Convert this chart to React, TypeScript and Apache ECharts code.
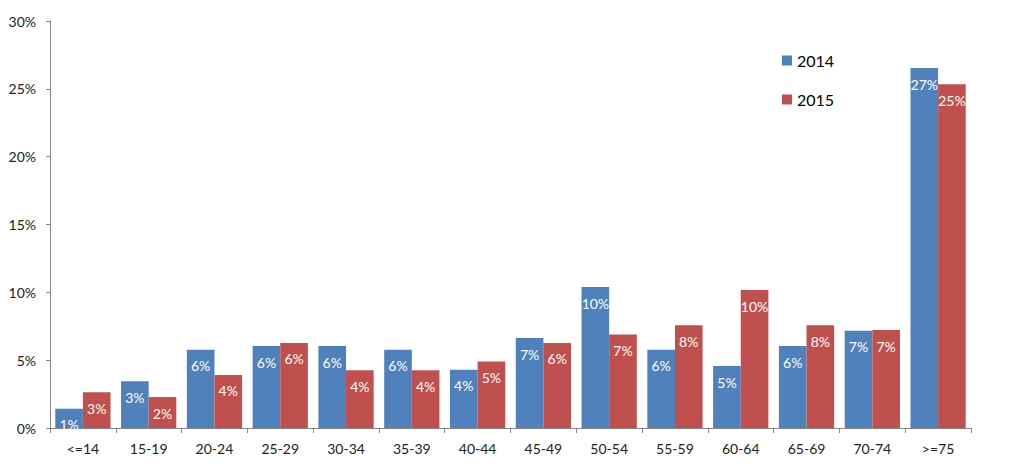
import React, { useEffect, useRef } from "react";
import * as echarts from "echarts";

const categories = ["<=14", "15-19", "20-24", "25-29", "30-34", "35-39", "40-44", "45-49", "50-54", "55-59", "60-64", "65-69", "70-74", ">=75"];
const values2014 = [1.42, 3.44, 5.77, 6.04, 6.04, 5.77, 4.3, 6.63, 10.39, 5.77, 4.57, 6.04, 7.17, 26.53];
const values2015 = [2.63, 2.28, 3.91, 6.27, 4.25, 4.25, 4.91, 6.27, 6.9, 7.57, 10.17, 7.57, 7.22, 25.33];
const seriesNames = ["2014", "2015"];
const colors = ["#4F81BD", "#C0504D"];

const FONT = "Lato, 'Open Sans', sans-serif";

export default function App() {
  const ref = useRef<HTMLDivElement>(null);
  useEffect(() => {
    if (!ref.current) return;
    const chart = echarts.init(ref.current, null, { renderer: "svg" });
    const label = {
      show: true,
      position: "insideTop",
      distance: 9,
      color: "#ffffff",
      fontSize: 14,
      fontFamily: FONT,
      formatter: (p: any) => Math.round(p.value) + "%",
    };
    chart.setOption({
      animation: false,
      backgroundColor: "#ffffff",
      color: colors,
      textStyle: { fontFamily: FONT },
      grid: { left: 50, right: 53, top: 21, bottom: 39, containLabel: false },
      legend: {
        orient: "vertical",
        left: 782,
        top: 52,
        padding: 0,
        itemWidth: 10,
        itemHeight: 10,
        itemGap: 22,
        icon: "rect",
        textStyle: { fontSize: 16, color: "#000", fontFamily: FONT, lineHeight: 17 },
        data: seriesNames,
      },
      xAxis: {
        type: "category",
        data: categories,
        axisLine: { lineStyle: { color: "#868686", width: 1 } },
        axisTick: { show: true, length: 5, lineStyle: { color: "#868686" } },
        axisLabel: { color: "#222", fontSize: 14, margin: 13, fontFamily: FONT, interval: 0 },
      },
      yAxis: {
        type: "value",
        min: 0,
        max: 30,
        interval: 5,
        axisLine: { show: true, lineStyle: { color: "#868686", width: 1 } },
        axisTick: { show: true, length: 4, lineStyle: { color: "#868686" } },
        splitLine: { show: false },
        axisLabel: { color: "#222", fontSize: 14, margin: 14, fontFamily: FONT, formatter: "{value}%" },
      },
      series: [
        {
          name: seriesNames[0],
          type: "bar",
          data: values2014,
          barGap: "0%",
          barCategoryGap: "16%",
          label,
        },
        {
          name: seriesNames[1],
          type: "bar",
          data: values2015,
          barGap: "0%",
          barCategoryGap: "16%",
          label,
        },
      ],
    });
    return () => chart.dispose();
  }, []);
  return (
    <div
      ref={ref}
      style={{ position: "fixed", left: 0, top: 0, width: 1024, height: 467, background: "#fff" }}
    />
  );
}
